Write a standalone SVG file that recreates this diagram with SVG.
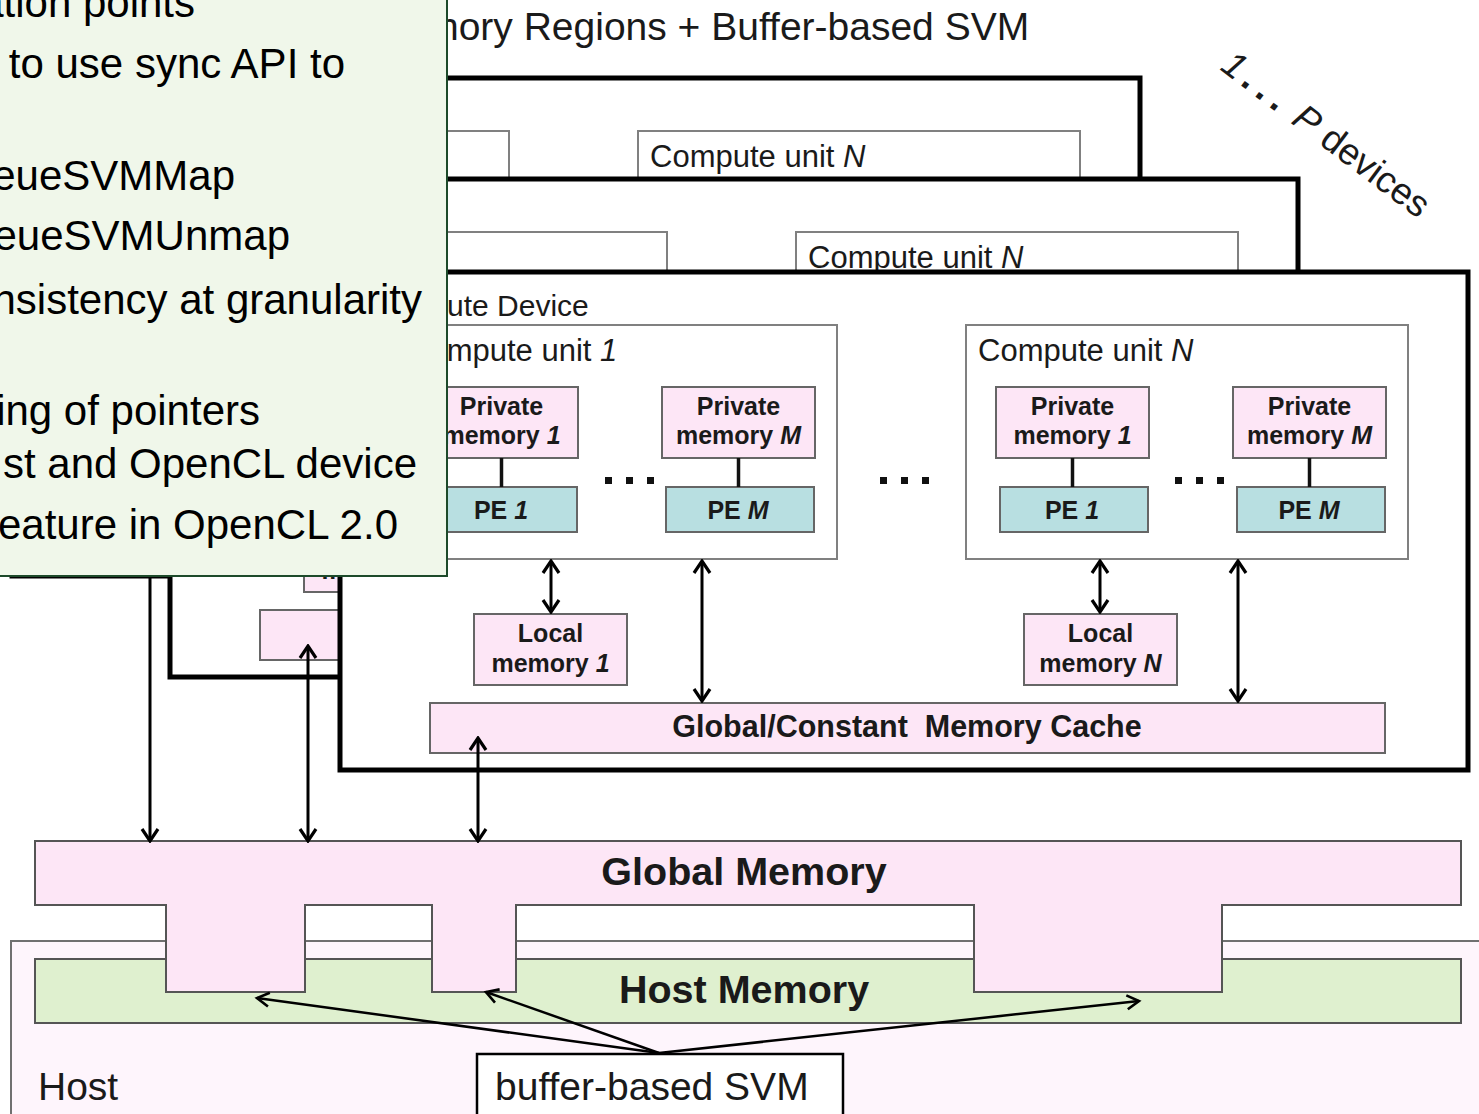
<svg xmlns="http://www.w3.org/2000/svg" xmlns:xlink="http://www.w3.org/1999/xlink" width="1479" height="1114" viewBox="0 0 1479 1114">
  <style>
    .t { font-family: "Liberation Sans", Arial, sans-serif; fill: #1a1a1a; }
    .b { font-weight: bold; }
    .i { font-style: italic; }
    .frame { fill: #ffffff; stroke: #000000; stroke-width: 5; }
    .cu { fill: #ffffff; stroke: #808080; stroke-width: 2; }
    .mem { fill: #fde6f6; stroke: #666666; stroke-width: 2; }
    .pe { fill: #b8dfe1; stroke: #666666; stroke-width: 2; }
    .dot { fill: #111111; }
    .tie { stroke: #111111; stroke-width: 3.5; fill: none; }
    .link { stroke: #000000; stroke-width: 3; fill: none; marker-start: url(#head); marker-end: url(#head); }
    .ptr { stroke: #000000; stroke-width: 2.5; fill: none; marker-end: url(#headThin); }
  </style>
  <defs>
    <marker id="head" viewBox="0 0 20 20" refX="18" refY="10" markerWidth="20" markerHeight="20" markerUnits="userSpaceOnUse" orient="auto-start-reverse">
      <path d="M6,2 L18,10 L6,18" fill="none" stroke="#000" stroke-width="3.2"/>
    </marker>
    <marker id="headThin" viewBox="0 0 20 20" refX="17" refY="10" markerWidth="20" markerHeight="20" markerUnits="userSpaceOnUse" orient="auto">
      <path d="M5,3 L17,10 L5,17" fill="none" stroke="#000" stroke-width="2.6"/>
    </marker>
  </defs>

  <!-- page title -->
  <text class="t" x="372" y="40" font-size="39">Memory Regions + Buffer-based SVM</text>

  <!-- 1 ... P devices caption -->
  <text class="t" transform="translate(1219,69) rotate(37)" font-size="37"><tspan class="i">1</tspan><tspan x="25" font-weight="bold" font-size="40">.</tspan><tspan x="43" font-weight="bold" font-size="40">.</tspan><tspan x="61" font-weight="bold" font-size="40">.</tspan><tspan x="89"><tspan class="i">P</tspan> devices</tspan></text>

  <!-- devices further back in the stack reuse the front device drawing -->
  <use id="device-back" xlink:href="#device-front" href="#device-front" transform="translate(-328,-194)"/>
  <use id="device-middle" xlink:href="#device-front" href="#device-front" transform="translate(-170,-93)"/>

  <!-- front compute device -->
  <g id="device-front">
    <rect class="frame" x="340" y="272" width="1128" height="498"/>
    <text class="t" x="367" y="316" font-size="30">Compute Device</text>

    <g id="cu-1">
      <rect class="cu" x="395" y="325" width="442" height="234"/>
      <text class="t" x="407" y="361" font-size="31">Compute unit <tspan class="i">1</tspan></text>
    </g>
    <g id="cu-n">
      <rect class="cu" x="966" y="325" width="442" height="234"/>
      <text class="t" x="978" y="361" font-size="31">Compute unit <tspan class="i">N</tspan></text>
    </g>

    <g id="cu1-pm1">
      <rect class="mem" x="425" y="387" width="153" height="71"/>
      <text class="t b" x="501.5" y="415" font-size="25" text-anchor="middle">Private</text>
      <text class="t b" x="501.5" y="444" font-size="25" text-anchor="middle">memory <tspan class="i">1</tspan></text>
    </g>
    <g id="cu1-pmm">
      <rect class="mem" x="662" y="387" width="153" height="71"/>
      <text class="t b" x="738.5" y="415" font-size="25" text-anchor="middle">Private</text>
      <text class="t b" x="738.5" y="444" font-size="25" text-anchor="middle">memory <tspan class="i">M</tspan></text>
    </g>
    <g id="cun-pm1">
      <rect class="mem" x="996" y="387" width="153" height="71"/>
      <text class="t b" x="1072.5" y="415" font-size="25" text-anchor="middle">Private</text>
      <text class="t b" x="1072.5" y="444" font-size="25" text-anchor="middle">memory <tspan class="i">1</tspan></text>
    </g>
    <g id="cun-pmm">
      <rect class="mem" x="1233" y="387" width="153" height="71"/>
      <text class="t b" x="1309.5" y="415" font-size="25" text-anchor="middle">Private</text>
      <text class="t b" x="1309.5" y="444" font-size="25" text-anchor="middle">memory <tspan class="i">M</tspan></text>
    </g>

    <g id="cu1-pe1">
      <rect class="pe" x="429" y="487" width="148" height="45"/>
      <text class="t b" x="501" y="519" font-size="25" text-anchor="middle">PE <tspan class="i">1</tspan></text>
    </g>
    <g id="cu1-pem">
      <rect class="pe" x="666" y="487" width="148" height="45"/>
      <text class="t b" x="738" y="519" font-size="25" text-anchor="middle">PE <tspan class="i">M</tspan></text>
    </g>
    <g id="cun-pe1">
      <rect class="pe" x="1000" y="487" width="148" height="45"/>
      <text class="t b" x="1072" y="519" font-size="25" text-anchor="middle">PE <tspan class="i">1</tspan></text>
    </g>
    <g id="cun-pem">
      <rect class="pe" x="1237" y="487" width="148" height="45"/>
      <text class="t b" x="1309" y="519" font-size="25" text-anchor="middle">PE <tspan class="i">M</tspan></text>
    </g>

    <!-- ellipsis marks between repeated elements -->
    <g id="ellipses">
      <rect class="dot" x="605" y="477" width="7" height="7"/>
      <rect class="dot" x="626" y="477" width="7" height="7"/>
      <rect class="dot" x="647" y="477" width="7" height="7"/>
      <rect class="dot" x="880" y="477" width="7" height="7"/>
      <rect class="dot" x="901" y="477" width="7" height="7"/>
      <rect class="dot" x="922" y="477" width="7" height="7"/>
      <rect class="dot" x="1175" y="477" width="7" height="7"/>
      <rect class="dot" x="1196" y="477" width="7" height="7"/>
      <rect class="dot" x="1217" y="477" width="7" height="7"/>
    </g>

    <g id="local-1">
      <rect class="mem" x="474" y="614" width="153" height="71"/>
      <text class="t b" x="550.5" y="642" font-size="25" text-anchor="middle">Local</text>
      <text class="t b" x="550.5" y="672" font-size="25" text-anchor="middle">memory <tspan class="i">1</tspan></text>
    </g>
    <g id="local-n">
      <rect class="mem" x="1024" y="614" width="153" height="71"/>
      <text class="t b" x="1100.5" y="642" font-size="25" text-anchor="middle">Local</text>
      <text class="t b" x="1100.5" y="672" font-size="25" text-anchor="middle">memory <tspan class="i">N</tspan></text>
    </g>

    <g id="cache">
      <rect class="mem" x="430" y="703" width="955" height="50"/>
      <text class="t b" x="907" y="737" font-size="30.5" text-anchor="middle" xml:space="preserve">Global/Constant  Memory Cache</text>
    </g>

    <!-- links inside the device -->
    <g id="device-links">
      <line class="tie" x1="501.5" y1="458" x2="501.5" y2="487"/>
      <line class="tie" x1="738.5" y1="458" x2="738.5" y2="487"/>
      <line class="tie" x1="1072.5" y1="458" x2="1072.5" y2="487"/>
      <line class="tie" x1="1309.5" y1="458" x2="1309.5" y2="487"/>
      <line class="link" x1="551" y1="561" x2="551" y2="612"/>
      <line class="link" x1="1100" y1="561" x2="1100" y2="612"/>
      <line class="link" x1="702" y1="561" x2="702" y2="701"/>
      <line class="link" x1="1238" y1="561" x2="1238" y2="701"/>
    </g>
  </g>

  <!-- host side -->
  <g id="host">
    <rect x="11" y="941" width="1490" height="200" fill="#fef5fc" stroke="#707070" stroke-width="2"/>
    <text class="t" x="38" y="1100" font-size="39">Host</text>
  </g>
  <g id="host-memory">
    <rect x="35" y="959" width="1426" height="64" fill="#dff0cf" stroke="#555555" stroke-width="2"/>
    <text class="t b" x="744" y="1003" font-size="39.5" text-anchor="middle">Host Memory</text>
  </g>
  <g id="global-memory">
    <path d="M35,841 H1461 V905 H1222 V992 H974 V905 H516 V992 H432 V905 H305 V992 H166 V905 H35 Z" fill="#fde6f6" stroke="#555555" stroke-width="2"/>
    <text class="t b" x="744" y="885" font-size="39.5" text-anchor="middle">Global Memory</text>
  </g>
  <g id="svm">
    <rect x="477" y="1054" width="366" height="80" fill="#ffffff" stroke="#000000" stroke-width="2.5"/>
    <text class="t" x="495" y="1100" font-size="39">buffer-based SVM</text>
  </g>

  <!-- connectors between devices, global memory and SVM buffers -->
  <g id="connectors">
    <line class="link" x1="150" y1="545" x2="150" y2="841"/>
    <line class="link" x1="308" y1="646" x2="308" y2="841"/>
    <line class="link" x1="478" y1="738" x2="478" y2="841"/>
    <line class="ptr" x1="659" y1="1053" x2="257" y2="998"/>
    <line class="ptr" x1="659" y1="1053" x2="486" y2="992"/>
    <line class="ptr" x1="659" y1="1053" x2="1139" y2="1001"/>
  </g>

  <!-- notes panel -->
  <g id="notes">
    <rect x="-4" y="-4" width="451" height="580" fill="#f0f7ea" stroke="#1d4a2a" stroke-width="2"/>
    <g class="t" font-size="42" text-anchor="end" style="fill:#000">
      <text x="195" y="17">ation points</text>
      <text x="345" y="78">to use sync API to</text>
      <text x="235" y="190">eueSVMMap</text>
      <text x="290" y="250">eueSVMUnmap</text>
      <text x="422" y="314">nsistency at granularity</text>
      <text x="260" y="425">ing of pointers</text>
      <text x="417" y="478">st and OpenCL device</text>
      <text x="398" y="539">eature in OpenCL 2.0</text>
    </g>
  </g>
</svg>
